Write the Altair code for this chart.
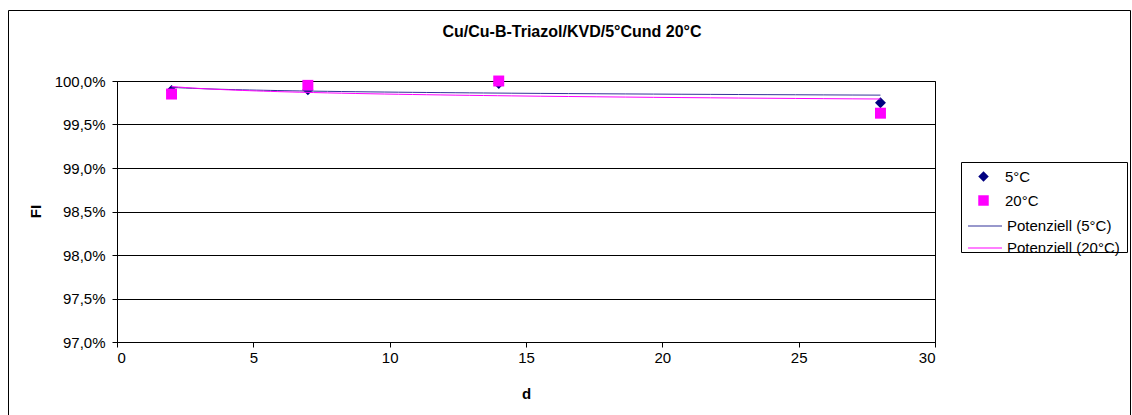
import altair as alt
import pandas as pd

# ---- data ----
days = [2, 7, 14, 28]
fi_5c = [0.9989, 0.9990, 0.9997, 0.9975]
fi_20c = [0.9985, 0.9995, 1.0000, 0.9963]
series_names = ["5°C", "20°C"]
series_colors = ["#000080", "#FF00FF"]
series_shapes = ["diamond", "square"]
trend_names = ["Potenziell (5°C)", "Potenziell (20°C)"]
trend_colors = ["#333399", "#FF00FF"]
x_ticks = [0, 5, 10, 15, 20, 25, 30]
y_ticks = [0.97, 0.975, 0.98, 0.985, 0.99, 0.995, 1.0]
title_text = "Cu/Cu-B-Triazol/KVD/5°Cund 20°C"

rows = []
for name, vals in zip(series_names, [fi_5c, fi_20c]):
    for d, v in zip(days, vals):
        rows.append({"d": d, "FI": v, "series": name})
df = pd.DataFrame(rows)

FONT = "Liberation Sans"
W, H = 818, 261

x_enc = alt.X(
    "d:Q",
    scale=alt.Scale(domain=[0, 30], nice=False, zero=False),
    axis=alt.Axis(values=x_ticks, title="d", grid=False, tickSize=5,
                  labelPadding=3, labelFont=FONT, labelFontSize=15,
                  labelColor="black", titleFont=FONT, titleFontSize=15,
                  titleFontWeight="bold", titleColor="black",
                  domainColor="black", tickColor="black",
                  titleX=409, titleY=51,
                  titleBaseline="middle", titleAlign="center"),
)
y_enc = alt.Y(
    "FI:Q",
    scale=alt.Scale(domain=[0.97, 1.0], nice=False, zero=False),
    axis=alt.Axis(values=y_ticks, title="FI", grid=True, gridColor="black",
                  gridWidth=1, gridOpacity=1, tickSize=5, labelPadding=7,
                  labelFont=FONT, labelFontSize=15, labelColor="black",
                  titleFont=FONT, titleFontSize=15, titleFontWeight="bold",
                  titleColor="black", domainColor="black", tickColor="black",
                  labelExpr="replace(format(datum.value, '.1%'), '.', ',')",
                  titleX=-82, titleY=130, titleBaseline="middle",
                  titleAlign="center", titleAngle=270),
)

legend_pts = alt.Legend(title=None, orient="none", legendX=859, legendY=88,
                        labelFont=FONT, labelFontSize=15, labelColor="black",
                        symbolSize=110, rowPadding=8, labelOffset=14,
                        symbolStrokeWidth=0, padding=0)

points = alt.Chart(df).mark_point(filled=True, size=120, opacity=1).encode(
    x=x_enc,
    y=y_enc,
    color=alt.Color("series:N", scale=alt.Scale(domain=series_names, range=series_colors),
                    legend=legend_pts),
    shape=alt.Shape("series:N", scale=alt.Scale(domain=series_names, range=series_shapes),
                    legend=legend_pts),
    order=alt.Order("ord:Q"),
).transform_calculate(ord="datum.series == '5°C' ? 0 : 1")


def trend_layer(i, legend_y):
    return alt.Chart(df).transform_filter(
        alt.datum.series == series_names[i]
    ).transform_regression(
        "d", "FI", method="pow"
    ).transform_calculate(
        label="'" + trend_names[i] + "'"
    ).mark_line(strokeWidth=1, color=trend_colors[i]).encode(
        x=alt.X("d:Q"),
        y=alt.Y("FI:Q"),
        color=alt.Color(
            "label:N",
            scale=alt.Scale(domain=[trend_names[i]], range=[trend_colors[i]]),
            legend=alt.Legend(title=None, orient="none", legendX=850, legendY=legend_y,
                              labelFont=FONT, labelFontSize=15, labelColor="black",
                              symbolSize=1156, symbolStrokeWidth=1.2, rowPadding=0,
                              symbolStrokeColor=trend_colors[i], symbolOpacity=1,
                              labelOffset=4, padding=0, symbolType="stroke"),
        ),
    )


line5 = trend_layer(0, 127)
line20 = trend_layer(1, 149)

frame_df = pd.DataFrame({"k": [0]})
outer = alt.Chart(frame_df).mark_rect(fillOpacity=0, stroke="black", strokeWidth=1).encode(
    x=alt.value(-108.5), x2=alt.value(1013.5), y=alt.value(-70.5), y2=alt.value(340)
)
legend_box = alt.Chart(frame_df).mark_rect(fillOpacity=0, stroke="black", strokeWidth=1).encode(
    x=alt.value(844.5), x2=alt.value(1010.5), y=alt.value(81.5), y2=alt.value(171.5)
)
title_mark = alt.Chart(pd.DataFrame({"t": [title_text]})).mark_text(
    font=FONT, fontSize=16, fontWeight="bold", color="black",
    align="center", baseline="middle"
).encode(text="t:N", x=alt.value(455), y=alt.value(-49))

chart = alt.layer(outer, points, line5, line20, legend_box, title_mark).resolve_scale(
    color="independent", shape="independent"
).properties(
    width=W, height=H,
    autosize=alt.AutoSizeParams(type="none"),
    padding={"left": 117, "top": 81, "right": 197, "bottom": 73},
    background="white",
).configure_view(
    stroke="black", strokeWidth=1
)

chart.save("out.html", embed_options={"renderer": "svg", "actions": False})
